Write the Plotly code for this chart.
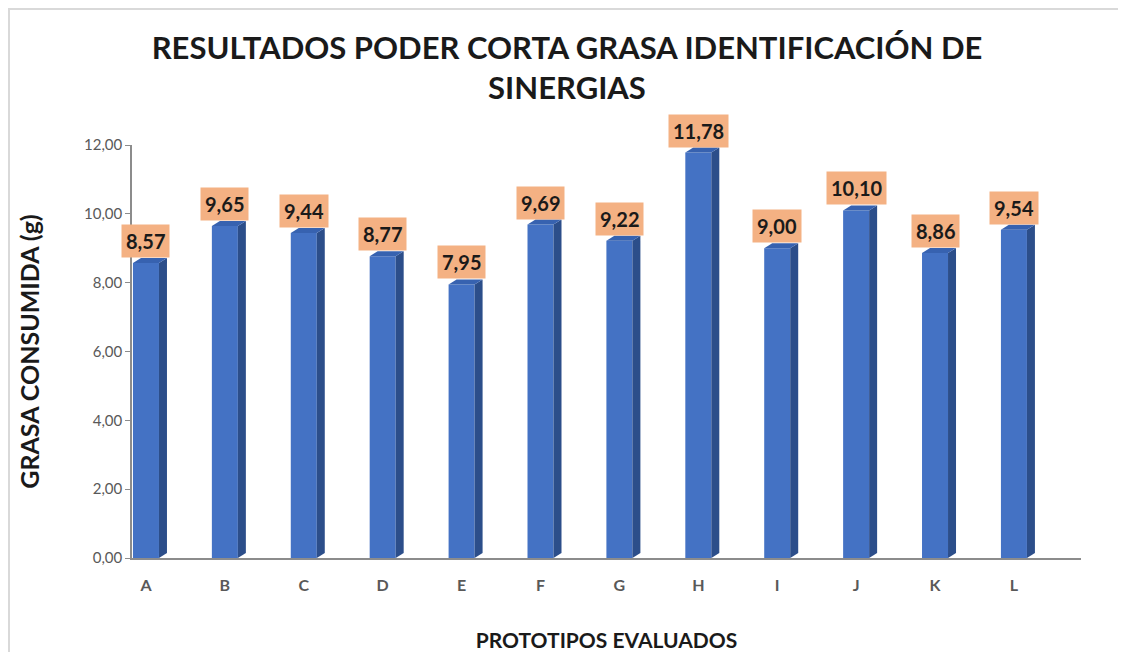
import plotly.graph_objects as go

categories = ["A", "B", "C", "D", "E", "F", "G", "H", "I", "J", "K", "L"]
values = [8.57, 9.65, 9.44, 8.77, 7.95, 9.69, 9.22, 11.78, 9.00, 10.10, 8.86, 9.54]
y_ticks = [0, 2, 4, 6, 8, 10, 12]

OFF = 8  # page body margin
W, H = 1126 - OFF, 652 - OFF
L_M, R_M, T_M, B_M = 132 - OFF, 45, 145 - OFF, 94
plot_w = W - L_M - R_M
plot_h = H - T_M - B_M
x_range = [-0.177, 11.85]
y_range = [0, 12]
px_x = plot_w / (x_range[1] - x_range[0])
px_y = plot_h / (y_range[1] - y_range[0])

bar_w = 26 / px_x
dx = 8 / px_x
dy = 5 / px_y

FRONT = "#4472C4"
SIDE = "#2C4E8A"
TOP = "#3762B0"

xs = list(range(len(categories)))
fig = go.Figure()

fig.add_trace(go.Bar(x=xs, y=values, width=bar_w, marker=dict(color=FRONT, line=dict(width=0)),
                     hoverinfo="skip", showlegend=False))

for i, v in zip(xs, values):
    x0 = i - bar_w / 2
    x1 = i + bar_w / 2
    fig.add_trace(go.Scatter(x=[x1, x1 + dx, x1 + dx, x1, x1], y=[0, dy, v + dy, v, 0],
                             fill="toself", fillcolor=SIDE, mode="lines", line=dict(width=0),
                             hoverinfo="skip", showlegend=False))
    fig.add_trace(go.Scatter(x=[x0, x0 + dx, x1 + dx, x1, x0], y=[v, v + dy, v + dy, v, v],
                             fill="toself", fillcolor=TOP, mode="lines", line=dict(width=0),
                             hoverinfo="skip", showlegend=False))

annotations = []
for i, v in zip(xs, values):
    annotations.append(dict(x=i, y=v + dy, xref="x", yref="y", yanchor="bottom", xanchor="center",
                            text=f"<b>{v:.2f}</b>".replace(".", ","), showarrow=False,
                            bgcolor="#F4B183", borderpad=4,
                            font=dict(family="Lato", size=20, color="#1a1a1a")))

fig.update_layout(
    width=W, height=H,
    margin=dict(l=L_M, r=R_M, t=T_M, b=B_M, autoexpand=False),
    paper_bgcolor="white", plot_bgcolor="white",
    separators=",.",
    title=dict(text="<b>RESULTADOS PODER CORTA GRASA IDENTIFICACIÓN DE<br>SINERGIAS</b>",
               x=0.5, xanchor="center", yref="container", y=1 - 51 / H, yanchor="middle",
               font=dict(family="Lato", size=31, color="#1a1a1a")),
    xaxis=dict(range=x_range, tickvals=xs, ticktext=[f"<b>{c}</b>" for c in categories],
               showline=True, linecolor="#8c8c8c", linewidth=1.5, ticks="", showgrid=False,
               zeroline=False, ticklabelstandoff=12, automargin=False,
               tickfont=dict(family="Lato", size=16, color="#595959"),
               title=dict(text="<b>PROTOTIPOS EVALUADOS</b>", standoff=42,
                          font=dict(family="Lato", size=21, color="#1a1a1a"))),
    yaxis=dict(range=y_range, tickvals=y_ticks, tickformat=".2f",
               showline=True, linecolor="#8c8c8c", linewidth=1.5, ticks="outside", ticklen=5,
               tickcolor="#8c8c8c", showgrid=False, zeroline=False, automargin=False,
               tickfont=dict(family="Lato", size=15, color="#595959"),
               title=dict(text="<b>GRASA CONSUMIDA (g)</b>", standoff=37,
                          font=dict(family="Lato", size=25, color="#1a1a1a"))),
    annotations=annotations,
    shapes=[dict(type="rect", xref="paper", yref="paper",
                 x0=(1 - L_M) / plot_w, x1=(1123 - OFF - L_M) / plot_w,
                 y0=(H - B_M - 680) / plot_h, y1=(H - B_M - 1) / plot_h,
                 line=dict(color="#d9d9d9", width=2), layer="below")],
)

fig.write_html("out.html")
